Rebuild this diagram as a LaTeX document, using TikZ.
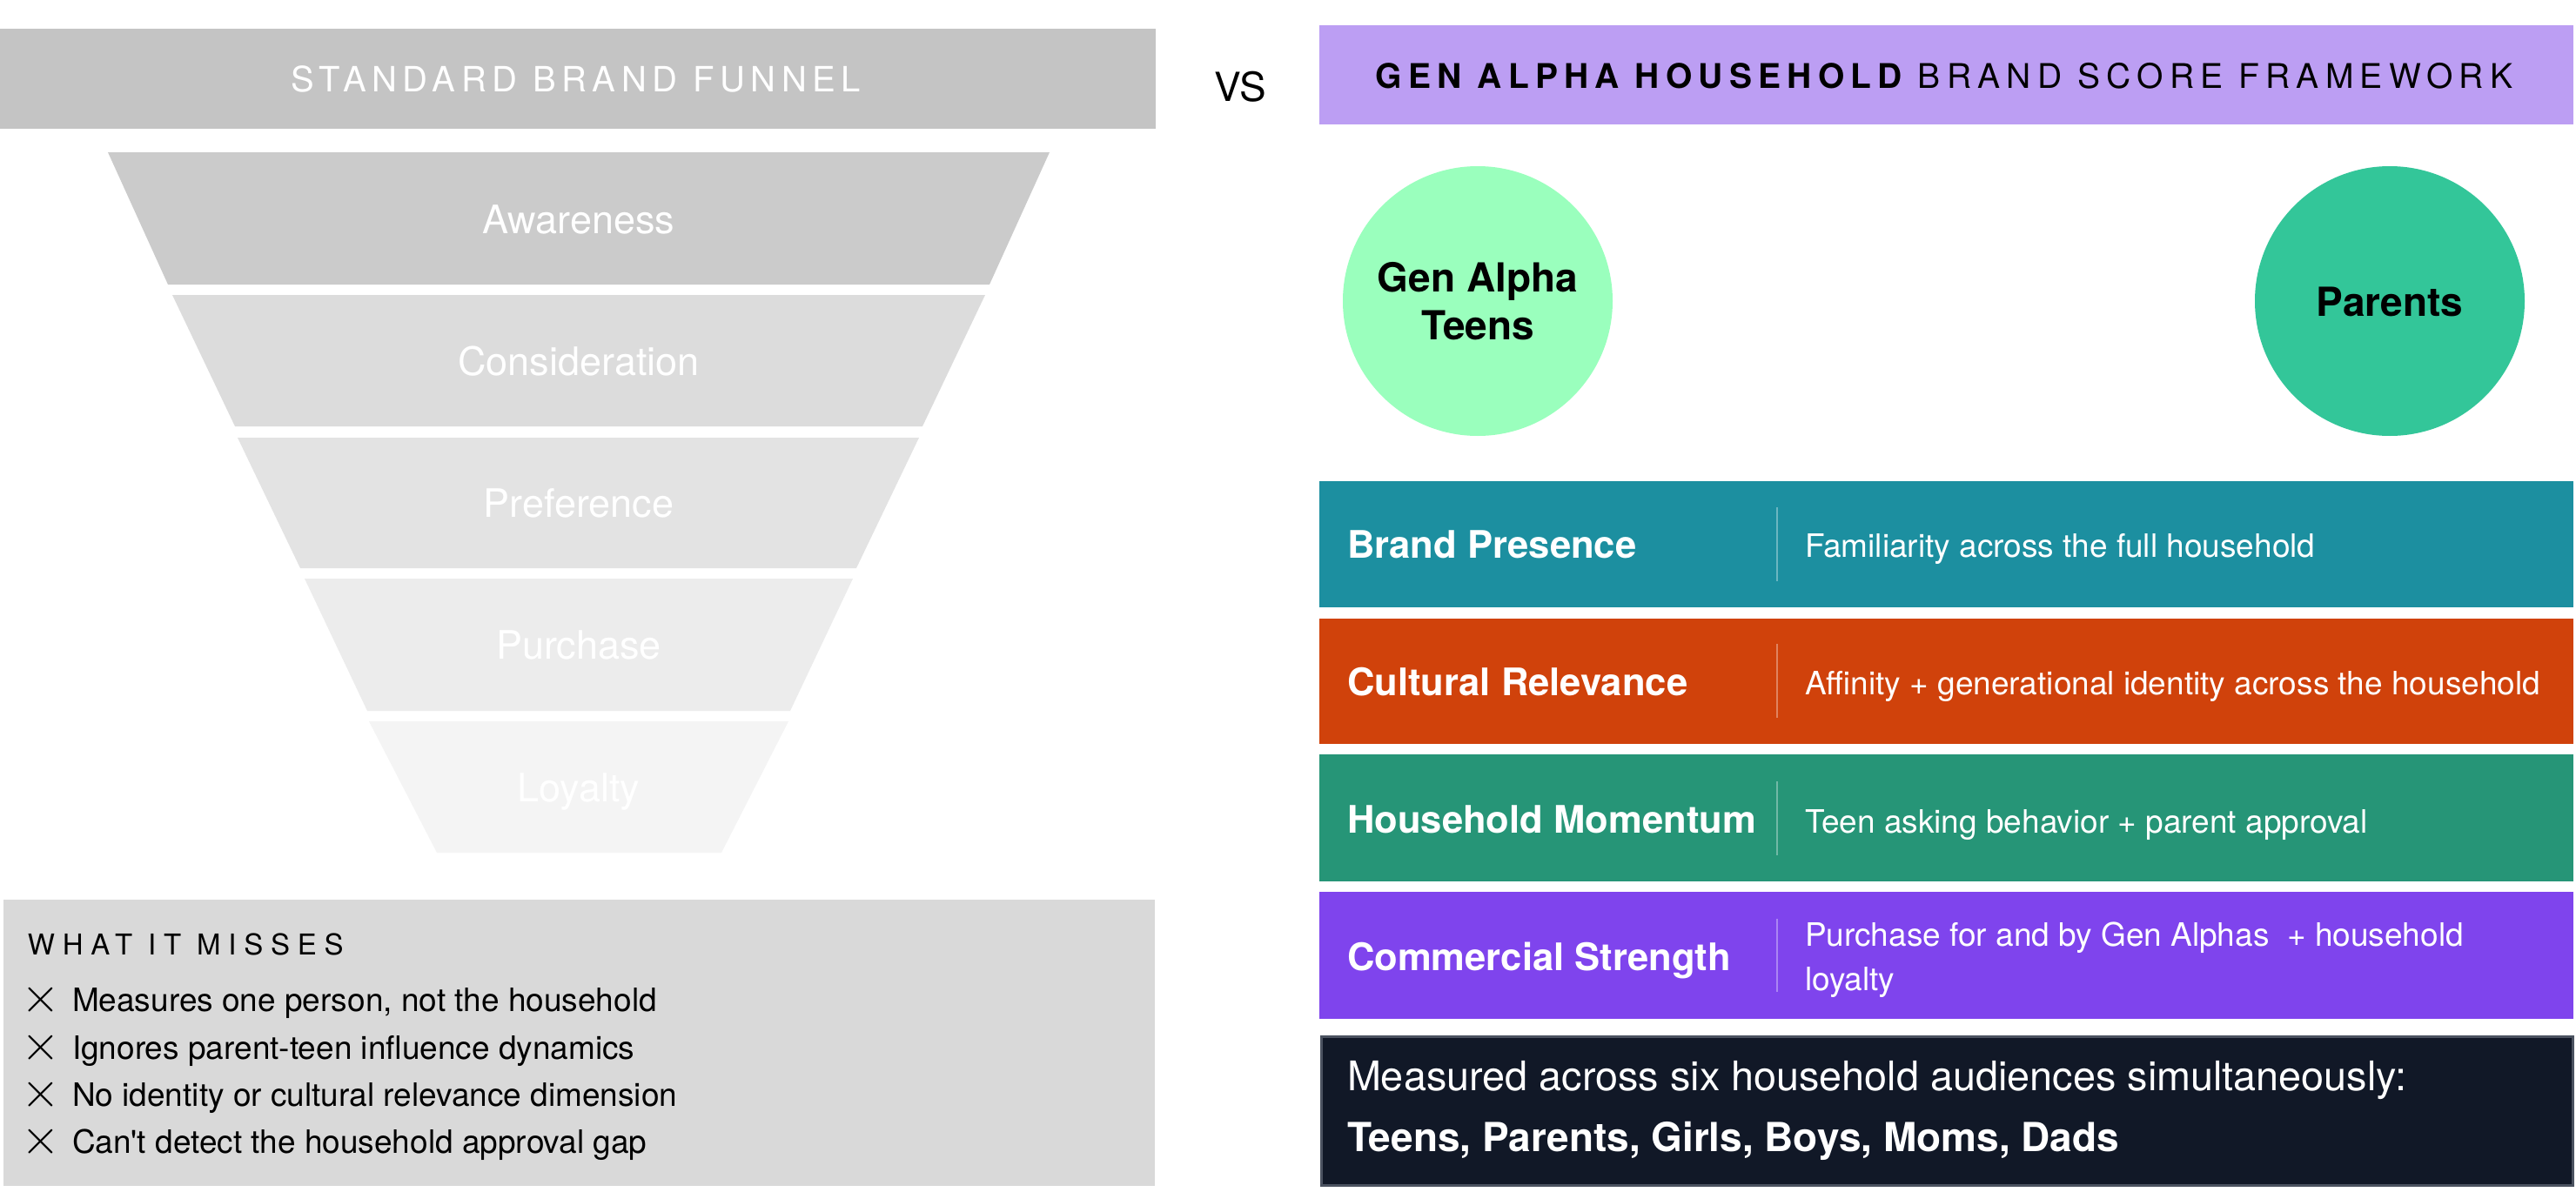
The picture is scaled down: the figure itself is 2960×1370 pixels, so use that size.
\documentclass[tikz,border=0pt]{standalone}
\usepackage{fontspec}
\setmainfont{TeX Gyre Heros}[Ligatures=TeXOff]
\definecolor{hdrgray}{HTML}{C4C4C4}
\definecolor{fa}{HTML}{CBCBCB}
\definecolor{fb}{HTML}{DCDCDC}
\definecolor{fc}{HTML}{E3E3E3}
\definecolor{fd}{HTML}{ECECEC}
\definecolor{fe}{HTML}{F4F4F4}
\definecolor{missgray}{HTML}{D9D9D9}
\definecolor{purp}{HTML}{BC9EF3}
\definecolor{mint}{HTML}{9AFFBD}
\definecolor{teal}{HTML}{33C699}
\definecolor{bpcol}{HTML}{1C8FA0}
\definecolor{crcol}{HTML}{D0420B}
\definecolor{hmcol}{HTML}{269577}
\definecolor{cscol}{HTML}{7F44ED}
\definecolor{darkbg}{HTML}{111827}
\definecolor{darkbd}{HTML}{4B5260}
\newcommand{\setfs}[2][1.2]{\fontsize{#2pt}{#1\dimexpr #2pt\relax}\selectfont}
\begin{document}
\begin{tikzpicture}[x=0.25pt,y=-0.25pt,
  txt/.style={inner sep=0pt, outer sep=0pt},
  funlbl/.style={txt, anchor=base, text=white, font=\setfs{11.25}},
  misslbl/.style={txt, anchor=base west, font=\setfs{9.25}},
  xmark/.style={txt, anchor=base, font=\setfs{15}},
  band/.style={fill=#1},
  bandtitle/.style={txt, anchor=base west, text=white, font=\bfseries\setfs{10.9}},
  banddesc/.style={txt, anchor=base west, text=white, font=\setfs{9.25}},
  divider/.style={draw=white, draw opacity=0.35, line width=0.5pt},
  audience/.style={circle, inner sep=0pt, minimum size=77.5pt, align=center, font=\bfseries\fontsize{11.5pt}{13.75pt}\selectfont},
]
\path[use as bounding box] (0,0) rectangle (2960,1370);
\fill[white] (0,0) rectangle (2960,1370);

% ---------- left header ----------
\fill[hdrgray] (0,33) rectangle (1328,148);
\node[txt, anchor=base, text=white] (lefthead) at (662,106)
  {\setfs{10}\addfontfeatures{LetterSpace=16.5}STANDARD BRAND FUNNEL};

% ---------- VS ----------
\node[txt, anchor=base] (vs) at (1425,116) {\setfs{11.5}VS};

% ---------- funnel ----------
\fill[fa] (124,175) -- (1206,175) -- (1137,327) -- (193,327) -- cycle;
\fill[fb] (198,339) -- (1132,339) -- (1060,490) -- (270,490) -- cycle;
\fill[fc] (273,503) -- (1056,503) -- (984,653) -- (345,653) -- cycle;
\fill[fd] (350,665) -- (980,665) -- (908,817) -- (422,817) -- cycle;
\fill[fe] (424,829) -- (906,829) -- (829,980) -- (502,980) -- cycle;
\node[funlbl] (aw) at (665,268) {Awareness};
\node[funlbl] (co) at (665,431) {Consideration};
\node[funlbl] (pr) at (665,594) {Preference};
\node[funlbl] (pu) at (665,757) {Purchase};
\node[funlbl] (lo) at (665,921) {Loyalty};

% ---------- what it misses ----------
\fill[missgray] (4,1034) rectangle (1327,1363);
\node[txt, anchor=base west] (misshead) at (32,1097)
  {\setfs{8.25}\addfontfeatures{LetterSpace=26.5}WHAT IT MISSES};
\node[xmark] (x1) at (47,1163) {$\times$};
\node[xmark] (x2) at (47,1218) {$\times$};
\node[xmark] (x3) at (47,1272) {$\times$};
\node[xmark] (x4) at (47,1326) {$\times$};
\node[misslbl] (m1) at (83,1162) {Measures one person, not the household};
\node[misslbl] (m2) at (83,1217) {Ignores parent-teen influence dynamics};
\node[misslbl] (m3) at (83,1271) {No identity or cultural relevance dimension};
\node[misslbl] (m4) at (83,1325) {Can't detect the household approval gap};

% ---------- right header ----------
\fill[purp] (1516,29) rectangle (2957,143);
\node[txt, anchor=base] (righthead) at (2234,101)
  {\setfs{9.75}\addfontfeatures{LetterSpace=18.5}{\bfseries GEN ALPHA HOUSEHOLD} BRAND SCORE FRAMEWORK};

% ---------- audiences ----------
\node[audience, fill=mint] (teens) at (1698,346) {Gen Alpha\\Teens};
\node[audience, fill=teal] (parents) at (2746,346) {};
\node[txt, anchor=base, font=\bfseries\setfs{11.5}] (parentslbl) at (parents.center |- 0,363) {Parents};

% ---------- bands ----------
\fill[band=bpcol] (1516,553) rectangle (2957,698);
\draw[divider] (2042,583) -- (2042,668);
\node[bandtitle] (bpt) at (1548,641) {Brand Presence};
\node[banddesc] (bpd) at (2074,640) {Familiarity across the full household};

\fill[band=crcol] (1516,711) rectangle (2957,855);
\draw[divider] (2042,740) -- (2042,825);
\node[bandtitle] (crt) at (1548,799) {Cultural Relevance};
\node[banddesc] (crd) at (2074,798) {Affinity + generational identity across the household};

\fill[band=hmcol] (1516,867) rectangle (2957,1013);
\draw[divider] (2042,898) -- (2042,983);
\node[bandtitle] (hmt) at (1548,957) {Household Momentum};
\node[banddesc] (hmd) at (2074,957) {Teen asking behavior + parent approval};

\fill[band=cscol] (1516,1025) rectangle (2957,1171);
\draw[divider] (2042,1056) -- (2042,1140);
\node[bandtitle] (cst) at (1548,1115) {Commercial Strength};
\node[banddesc] (csd1) at (2074,1087) {Purchase for and by Gen Alphas\ \ + household};
\node[banddesc] (csd2) at (2074,1138) {loyalty};

% ---------- audiences box ----------
\filldraw[fill=darkbg, draw=darkbd, line width=0.75pt] (1518,1191) rectangle (2956,1362);
\node[txt, anchor=base west, text=white, font=\setfs{11.7}] (meas) at (1548,1253)
  {Measured across six household audiences simultaneously:};
\node[txt, anchor=base west, text=white, font=\bfseries\setfs{11.5}] (aud) at (1548,1323)
  {Teens, Parents, Girls, Boys, Moms, Dads};
\end{tikzpicture}
\end{document}
